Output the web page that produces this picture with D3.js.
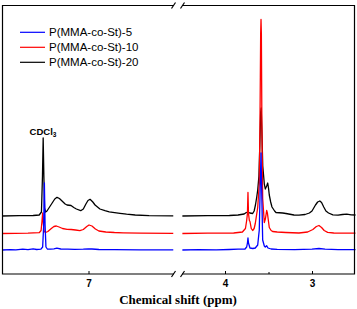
<!DOCTYPE html>
<html>
<head>
<meta charset="utf-8">
<script src="https://cdnjs.cloudflare.com/ajax/libs/d3/7.8.5/d3.min.js"></script>
<style>
  body { margin: 0; background: #fff; }
</style>
</head>
<body>
<div id="chart"></div>
<script>
// series names (legend order)
var seriesNames = ["P(MMA-co-St)-5", "P(MMA-co-St)-10", "P(MMA-co-St)-20"];
// vertical stacking offset of each trace (intensity units)
var offsets = [0, 16.5, 34];

// tick labels
var leftTicks = [7];
var rightTicks = [4, 3];
var rightMinor = [3.5];

// [ppm, intensity], aromatic region
var p5Left = [[7.50,0],[7.45,0.4],[7.42,0.2],[7.38,0.8],[7.35,0.3],[7.32,1.2],[7.30,0.5],[7.275,0.8],[7.265,3],[7.259,25],[7.255,67],[7.251,25],[7.246,3],[7.238,1],[7.22,0.8],[7.20,1.2],[7.183,1.8],[7.16,1],[7.12,0.8],[7.08,0.6],[7.03,0.8],[7.00,1.2],[6.98,1],[6.94,0.5],[6.85,0.3],[6.70,0.2],[6.51,0.2]];
var p10Left = [[7.50,0],[7.35,0.3],[7.285,0.8],[7.274,3],[7.269,12],[7.265,20.5],[7.261,10],[7.256,2],[7.248,1],[7.235,2],[7.215,5],[7.20,7],[7.186,7.5],[7.17,6.5],[7.15,5],[7.124,4.2],[7.10,4],[7.075,3.5],[7.05,2.8],[7.03,4],[7.01,7],[6.997,8.5],[6.98,7.5],[6.96,4.5],[6.94,2.5],[6.90,1.5],[6.85,1],[6.80,0.7],[6.70,0.4],[6.51,0.2]];
var p20Left = [[7.50,0],[7.40,0.3],[7.32,0.5],[7.285,1],[7.272,4],[7.266,40],[7.262,78],[7.258,40],[7.254,8],[7.248,4],[7.24,5],[7.225,9],[7.21,13],[7.195,17],[7.182,18.7],[7.168,17.5],[7.153,15],[7.135,12],[7.124,11],[7.101,10.5],[7.085,8.5],[7.07,7],[7.045,5.3],[7.03,7],[7.015,12],[7.003,15.5],[6.991,16.7],[6.975,14],[6.962,11],[6.934,7],[6.905,5.3],[6.88,4.2],[6.818,2.7],[6.78,1.8],[6.73,1],[6.65,0.4],[6.51,0.2]];

// [ppm, intensity], aliphatic region
var p5Right = [[4.49,0],[4.30,0.3],[4.10,0.2],[3.95,0.5],[3.85,0.8],[3.77,1],[3.751,3],[3.742,7],[3.736,12],[3.730,7],[3.713,2],[3.68,1.5],[3.652,2],[3.624,5],[3.606,20],[3.596,60],[3.586,97],[3.576,50],[3.567,10],[3.548,4],[3.537,3],[3.521,4.3],[3.506,2],[3.47,1],[3.40,0.6],[3.20,0.4],[3.00,0.8],[2.92,1.5],[2.85,0.8],[2.70,0.3],[2.50,0.3]];
var p10Right = [[4.49,0],[4.20,0.3],[3.90,0.5],[3.80,1.5],[3.765,5],[3.751,13],[3.742,20],[3.736,41],[3.730,20],[3.720,13],[3.713,12],[3.698,5],[3.682,3],[3.665,5],[3.652,10],[3.624,26],[3.606,50],[3.598,110],[3.590,200],[3.586,214],[3.582,200],[3.576,110],[3.567,35],[3.548,11],[3.535,15],[3.521,23],[3.512,20],[3.506,16],[3.491,6],[3.47,3],[3.452,2],[3.40,1.5],[3.30,1],[3.15,0.5],[3.05,1.5],[2.99,4],[2.95,7],[2.92,8],[2.89,6],[2.86,3],[2.82,1.2],[2.75,0.5],[2.50,0.3]];
var p20Right = [[4.49,0],[4.20,0.3],[3.95,0.5],[3.85,1],[3.78,2],[3.755,3.5],[3.736,4],[3.715,3],[3.682,2.5],[3.665,5],[3.65,11],[3.635,19],[3.624,26],[3.610,40],[3.600,70],[3.590,104],[3.584,108],[3.576,85],[3.566,50],[3.548,32],[3.537,27],[3.521,30],[3.509,33],[3.50,28],[3.491,21],[3.475,14],[3.46,9],[3.43,5],[3.414,3.5],[3.337,3],[3.30,2.5],[3.207,1],[3.15,0.8],[3.08,1.5],[3.03,3],[3.00,5],[2.96,11],[2.935,14],[2.91,15],[2.89,13.5],[2.865,9],[2.84,5],[2.81,3],[2.76,1.2],[2.70,0.8],[2.65,1.5],[2.60,1.8],[2.55,1.2],[2.50,1]];

var seriesLeft = [p5Left, p10Left, p20Left];
var seriesRight = [p5Right, p10Right, p20Right];
var colors = ["#0000ff", "#ff0000", "#000000"];

var width = 357, height = 309;
var svg = d3.select("#chart").append("svg")
    .attr("width", width)
    .attr("height", height);

var frameL = 2.5, frameR = 354.5, frameT = 5.5, frameB = 274;
var breakL = 174, breakR = 182;

var xL = d3.scaleLinear().domain([7.5, 6.5]).range([2, 175]);
var xR = d3.scaleLinear().domain([4.5, 2.5]).range([181.5, 355.5]);
var y = d3.scaleLinear().domain([0, 245]).range([250, 5]);

// traces: black first, blue on top
[2, 1, 0].forEach(function (i) {
    var off = offsets[i];
    var lineL = d3.line().x(function (d) { return xL(d[0]); }).y(function (d) { return y(d[1] + off); });
    var lineR = d3.line().x(function (d) { return xR(d[0]); }).y(function (d) { return y(d[1] + off); });
    svg.append("path").attr("d", lineL(seriesLeft[i]))
        .attr("fill", "none").attr("stroke", colors[i]).attr("stroke-width", 1.3).attr("stroke-linejoin", "round");
    svg.append("path").attr("d", lineR(seriesRight[i]))
        .attr("fill", "none").attr("stroke", colors[i]).attr("stroke-width", 1.3).attr("stroke-linejoin", "round");
});

// frame
var frame = svg.append("g").attr("stroke", "#000").attr("stroke-width", 1.2).attr("fill", "none");
frame.append("path").attr("d",
    "M" + breakL + "," + frameT + "H" + frameL + "V" + frameB + "H" + breakL +
    "M" + breakR + "," + frameT + "H" + frameR + "V" + frameB + "H" + breakR);
// break marks
[frameT, frameB].forEach(function (yy) {
    [breakL - 0.5, breakR + 0.5].forEach(function (xx) {
        frame.append("line")
            .attr("x1", xx - 2).attr("y1", yy + 3)
            .attr("x2", xx + 2).attr("y2", yy - 3);
    });
});

// axes
function styleAxis(g) {
    g.select(".domain").remove();
    g.selectAll(".tick line").attr("stroke", "#000").attr("stroke-width", 1);
    g.selectAll(".tick text")
        .attr("fill", "#000")
        .style("font-family", "'Liberation Sans', Arial, sans-serif")
        .style("font-weight", "bold")
        .style("font-size", "10px");
}
svg.append("g").attr("transform", "translate(0," + frameB + ")")
    .call(d3.axisBottom(xL).tickValues(leftTicks).tickSizeInner(-3).tickSizeOuter(0).tickPadding(5.5).tickFormat(d3.format("d")))
    .call(styleAxis);
svg.append("g").attr("transform", "translate(0," + frameB + ")")
    .call(d3.axisBottom(xR).tickValues(rightTicks).tickSizeInner(-3).tickSizeOuter(0).tickPadding(5.5).tickFormat(d3.format("d")))
    .call(styleAxis);
svg.append("g").attr("transform", "translate(0," + frameB + ")")
    .call(d3.axisBottom(xR).tickValues(rightMinor).tickSizeInner(-2).tickSizeOuter(0).tickFormat(""))
    .call(styleAxis);

// axis title
svg.append("text")
    .attr("x", 178).attr("y", 304)
    .attr("text-anchor", "middle")
    .style("font-family", "'Liberation Serif', 'Times New Roman', serif")
    .style("font-weight", "bold")
    .style("font-size", "13px")
    .text("Chemical shift (ppm)");

// CDCl3 label
var lab = svg.append("text")
    .attr("x", 43).attr("y", 135)
    .attr("text-anchor", "middle")
    .style("font-family", "'Liberation Sans', Arial, sans-serif")
    .style("font-weight", "bold")
    .style("font-size", "9.5px");
lab.append("tspan").text("CDCl");
lab.append("tspan").attr("dy", 1.5).style("font-size", "6.5px").text("3");

// legend
var legend = svg.append("g");
seriesNames.forEach(function (name, i) {
    var ly = 32.3 + i * 15;
    legend.append("line")
        .attr("x1", 20).attr("x2", 45).attr("y1", ly).attr("y2", ly)
        .attr("stroke", colors[i]).attr("stroke-width", 1.2);
    legend.append("text")
        .attr("x", 49).attr("y", ly + 3.8)
        .style("font-family", "'Liberation Sans', Arial, sans-serif")
        .style("font-size", "11.5px")
        .text(name);
});
</script>
</body>
</html>
